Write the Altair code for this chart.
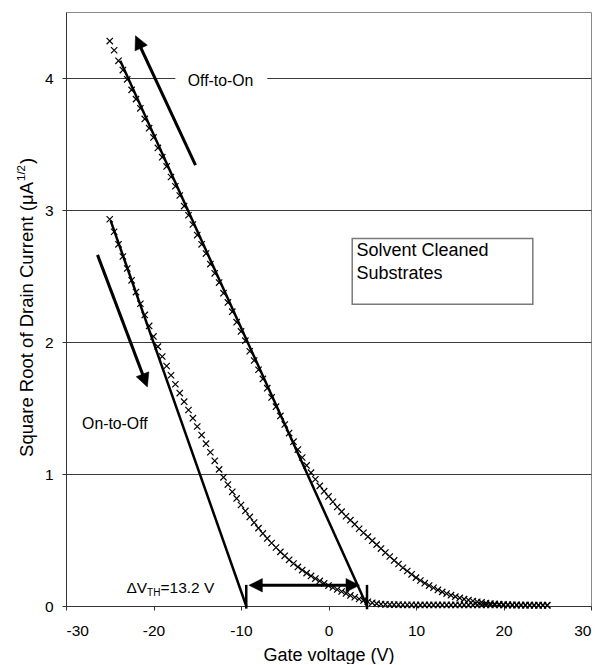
import altair as alt
import pandas as pd

FONT = "Liberation Sans"

# Gate voltage sweep (V)
V = [-25.0, -24.5, -24.0, -23.5, -23.0, -22.5, -22.0, -21.5, -21.0, -20.5,
     -20.0, -19.5, -19.0, -18.5, -18.0, -17.5, -17.0, -16.5, -16.0, -15.5,
     -15.0, -14.5, -14.0, -13.5, -13.0, -12.5, -12.0, -11.5, -11.0, -10.5,
     -10.0, -9.5, -9.0, -8.5, -8.0, -7.5, -7.0, -6.5, -6.0, -5.5,
     -5.0, -4.5, -4.0, -3.5, -3.0, -2.5, -2.0, -1.5, -1.0, -0.5,
     0.0, 0.5, 1.0, 1.5, 2.0, 2.5, 3.0, 3.5, 4.0, 4.5,
     5.0, 5.5, 6.0, 6.5, 7.0, 7.5, 8.0, 8.5, 9.0, 9.5,
     10.0, 10.5, 11.0, 11.5, 12.0, 12.5, 13.0, 13.5, 14.0, 14.5,
     15.0, 15.5, 16.0, 16.5, 17.0, 17.5, 18.0, 18.5, 19.0, 19.5,
     20.0, 20.5, 21.0, 21.5, 22.0, 22.5, 23.0, 23.5, 24.0, 24.5, 25.0]

# sqrt(Id) for the Off-to-On sweep
OFF_TO_ON = [4.28, 4.21, 4.13, 4.06, 3.99, 3.91, 3.84, 3.77, 3.69, 3.62,
             3.55, 3.47, 3.40, 3.33, 3.25, 3.18, 3.11, 3.03, 2.96, 2.89,
             2.81, 2.74, 2.67, 2.59, 2.52, 2.45, 2.37, 2.30, 2.23, 2.15,
             2.08, 2.01, 1.93, 1.86, 1.79, 1.72, 1.65, 1.58, 1.51, 1.44,
             1.375, 1.31, 1.245, 1.185, 1.125, 1.065, 1.01, 0.96, 0.91, 0.87,
             0.83, 0.79, 0.75, 0.715, 0.68, 0.65, 0.62, 0.585, 0.555, 0.525,
             0.495, 0.465, 0.435, 0.405, 0.375, 0.345, 0.318, 0.29, 0.265, 0.24,
             0.215, 0.193, 0.173, 0.155, 0.138, 0.122, 0.107, 0.094, 0.082, 0.071,
             0.061, 0.052, 0.045, 0.038, 0.032, 0.027, 0.023, 0.019, 0.016, 0.014,
             0.012, 0.010, 0.009, 0.008, 0.007, 0.006, 0.006, 0.005, 0.005, 0.005, 0.004]

# sqrt(Id) for the On-to-Off sweep
ON_TO_OFF = [2.93, 2.835, 2.74, 2.648, 2.557, 2.467, 2.378, 2.29, 2.205, 2.122,
             2.042, 1.965, 1.89, 1.818, 1.748, 1.68, 1.613, 1.548, 1.485, 1.423,
             1.36, 1.295, 1.23, 1.165, 1.10, 1.035, 0.975, 0.92, 0.865, 0.815,
             0.765, 0.72, 0.675, 0.632, 0.59, 0.55, 0.512, 0.477, 0.443, 0.41,
             0.38, 0.35, 0.322, 0.296, 0.272, 0.249, 0.228, 0.208, 0.19, 0.172,
             0.155, 0.14, 0.125, 0.11, 0.095, 0.08, 0.066, 0.053, 0.042, 0.032,
             0.024, 0.018, 0.014, 0.012, 0.011, 0.010, 0.010, 0.009, 0.009, 0.009,
             0.008, 0.008, 0.008, 0.008, 0.008, 0.008, 0.008, 0.008, 0.008, 0.008,
             0.008, 0.008, 0.008, 0.008, 0.008, 0.008, 0.008, 0.008, 0.008, 0.008,
             0.007, 0.007, 0.007, 0.007, 0.007, 0.007, 0.007, 0.007, 0.007, 0.007, 0.007]

# Fitted lines, threshold markers and arrow shafts
SEG_X1 = [-23.8, -24.9, -9.4, 4.4, -15.2, -26.4, -8.0]
SEG_Y1 = [4.13, 2.92, -0.02, -0.025, 3.34, 2.66, 0.157]
SEG_X2 = [4.4, -9.4, -9.4, 4.4, -21.6, -21.1, 2.4]
SEG_Y2 = [0.0, 0.0, 0.16, 0.16, 4.25, 1.73, 0.157]
SEG_W = [2.5, 2.5, 2.5, 2.5, 3, 3, 3]

# Arrow heads (tip position and direction, degrees clockwise from up)
HEAD_X = [-22.06, -20.7, -9.1, 3.54]
HEAD_Y = [4.32, 1.66, 0.157, 0.157]
HEAD_ANGLE = [335, 159, 270, 90]

# Text box
BOX_X = [2.71]
BOX_X2 = [23.35]
BOX_Y = [2.286]
BOX_Y2 = [2.785]

curves = pd.DataFrame({
    "x": V + V,
    "y": OFF_TO_ON + ON_TO_OFF,
    "series": ["Off-to-On"] * len(V) + ["On-to-Off"] * len(V),
})
segs = pd.DataFrame({"x": SEG_X1, "y": SEG_Y1, "x2": SEG_X2, "y2": SEG_Y2, "w": SEG_W})
heads = pd.DataFrame({"x": HEAD_X, "y": HEAD_Y, "a": HEAD_ANGLE})
box = pd.DataFrame({"x": BOX_X, "x2": BOX_X2, "y": BOX_Y, "y2": BOX_Y2})
gap = pd.DataFrame({"x": [-17.5], "x2": [-7.0], "y": [3.96], "y2": [4.04]})

xs = alt.Scale(domain=[-30, 30], nice=False, zero=False)
ys = alt.Scale(domain=[0, 4.5], nice=False, zero=False)

x_axis = alt.Axis(values=[-30, -20, -10, 0, 10, 20, 30], title="Gate voltage (V)",
                  labelExpr="'' + datum.value", grid=False, tickSize=4, labelPadding=13,
                  labelFontSize=15.5, labelFont=FONT, labelColor="black",
                  titleFont=FONT, titleFontSize=18, titleFontWeight="normal",
                  titleColor="black", titleY=40, domainColor="#333333",
                  tickColor="#333333")
y_axis = alt.Axis(values=[0, 1, 2, 3, 4], title=None, grid=True, gridColor="#3a3a3a",
                  gridWidth=1, tickSize=4, labelPadding=9, labelFontSize=15.5,
                  labelFont=FONT, labelColor="black", domainColor="#333333",
                  tickColor="#333333")

X = lambda f="x": alt.X(f"{f}:Q", scale=xs, axis=x_axis)
Y = lambda f="y": alt.Y(f"{f}:Q", scale=ys, axis=y_axis)

gap_layer = alt.Chart(gap).mark_rect(fill="white", stroke=None).encode(
    x=X(), x2="x2:Q", y=Y(), y2="y2:Q")

box_layer = alt.Chart(box).mark_rect(fill="white", stroke="#7a7a7a", strokeWidth=1.5).encode(
    x=X(), x2="x2:Q", y=Y(), y2="y2:Q")

seg_layer = alt.Chart(segs).mark_rule(color="black").encode(
    x=X(), x2="x2:Q", y=Y(), y2="y2:Q",
    strokeWidth=alt.StrokeWidth("w:Q", scale=None))

cross_layer = alt.Chart(curves).mark_point(
    shape="M-1,-1L1,1M-1,1L1,-1", size=40, filled=False, stroke="black",
    strokeWidth=1.2, opacity=1).encode(x=X(), y=Y(), detail="series:N")

head_layer = alt.Chart(heads).mark_point(
    shape="M0,0L-0.5,1L0.5,1Z", size=729, filled=True, fill="black",
    stroke="black", strokeWidth=0.5, opacity=1).encode(
    x=X(), y=Y(), angle=alt.Angle("a:Q", scale=None))


def txt(df, **kw):
    return alt.Chart(pd.DataFrame(df)).mark_text(font=FONT, color="black", **kw).encode(
        x=X(), y=Y(), text="t:N")


t_off = txt({"x": [-12.34], "y": [3.975], "t": ["Off-to-On"]},
            align="center", baseline="middle", fontSize=15.8)
t_on = txt({"x": [-28.16], "y": [1.38], "t": ["On-to-Off"]},
           align="left", baseline="middle", fontSize=15.8)
t_dv = txt({"x": [-23.1, -19.2], "y": [0.102, 0.102], "t": ["ΔV", "=13.2 V"]},
           align="left", baseline="alphabetic", fontSize=15.5)
t_th = txt({"x": [-20.74], "y": [0.078], "t": ["TH"]},
           align="left", baseline="alphabetic", fontSize=10)
t_box = txt({"x": [3.2, 3.2], "y": [2.649, 2.48], "t": ["Solvent Cleaned", "Substrates"]},
            align="left", baseline="alphabetic", fontSize=18)

one = pd.DataFrame({"k": [0]})
ytitle_main = alt.Chart(one).mark_text(
    font=FONT, color="black", fontSize=18.5, angle=270, align="right",
    baseline="alphabetic").encode(x=alt.value(-33), y=alt.value(170),
                                  text=alt.value("Square Root of Drain Current (μA"))
ytitle_sup = alt.Chart(one).mark_text(
    font=FONT, color="black", fontSize=11.5, angle=270, align="left",
    baseline="alphabetic").encode(x=alt.value(-41), y=alt.value(169),
                                  text=alt.value("1/2"))
ytitle_end = alt.Chart(one).mark_text(
    font=FONT, color="black", fontSize=18.5, angle=270, align="left",
    baseline="alphabetic").encode(x=alt.value(-33), y=alt.value(152),
                                  text=alt.value(")"))

chart = alt.layer(
    gap_layer, box_layer, seg_layer, cross_layer, head_layer,
    t_off, t_on, t_dv, t_th, t_box, ytitle_main, ytitle_sup, ytitle_end,
).properties(
    width=525, height=594,
    autosize=alt.AutoSizeParams(type="none"),
    padding={"left": 58, "top": 4, "right": 4, "bottom": 58},
    background="white",
).configure_view(stroke="#8a8a8a", strokeWidth=1)

chart.save("out.html", embed_options={"renderer": "svg", "actions": False})
